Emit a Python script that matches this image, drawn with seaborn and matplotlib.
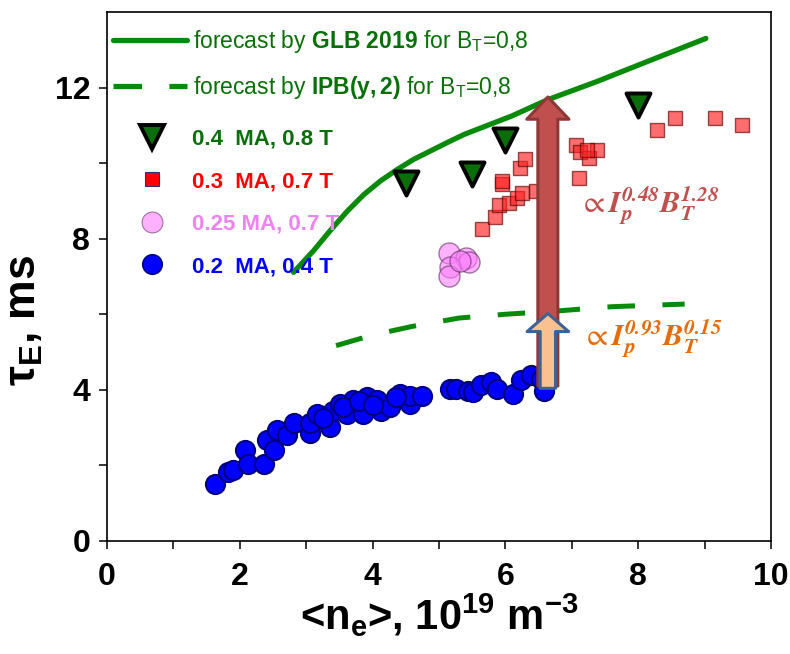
import matplotlib
matplotlib.use("Agg")
import matplotlib.pyplot as plt
import seaborn as sns
import pandas as pd
from matplotlib.lines import Line2D

# ---------------- data ----------------
blue_x = [1.63, 1.83, 1.90, 2.08, 2.12, 2.36, 2.41, 2.51, 2.56, 2.71, 2.81, 3.06, 3.06, 3.16,
          3.36, 3.41, 3.51, 3.62, 3.71, 3.86, 3.92, 4.07, 4.12, 4.27, 4.42, 4.57, 4.57, 4.75,
          5.17, 5.25, 5.43, 5.52, 5.63, 5.78, 5.88, 6.12, 6.23, 6.38, 6.53, 6.58,
          3.25, 3.55, 3.80, 4.00, 4.35]
blue_y = [1.50, 1.82, 1.87, 2.40, 2.05, 2.05, 2.66, 2.40, 2.93, 2.80, 3.11, 2.85, 3.11, 3.37,
          3.01, 3.45, 3.63, 3.37, 3.72, 3.37, 3.81, 3.72, 3.45, 3.54, 3.90, 3.63, 3.85, 3.85,
          4.03, 4.03, 3.98, 3.94, 4.12, 4.20, 4.03, 3.90, 4.25, 4.38, 4.30, 3.98,
          3.25, 3.55, 3.70, 3.60, 3.80]

red_x = [5.65, 5.84, 5.90, 6.05, 6.18, 6.25, 6.46, 5.95, 5.95, 6.22, 6.29,
         7.06, 7.12, 7.26, 7.38, 7.23, 7.11, 8.29, 8.55, 9.16, 9.57]
red_y = [8.25, 8.58, 8.89, 8.95, 9.08, 9.22, 9.26, 9.44, 9.52, 9.86, 10.11,
         10.47, 10.30, 10.14, 10.36, 10.36, 9.61, 10.88, 11.20, 11.20, 11.02]

pink_x = [5.15, 5.40, 5.45, 5.17, 5.15, 5.32]
pink_y = [7.63, 7.50, 7.37, 7.24, 7.02, 7.41]

tri_x = [4.50, 5.50, 6.00, 8.00]
tri_y = [9.48, 9.70, 10.62, 11.55]

glb_x = [2.81, 3.11, 3.36, 3.62, 3.87, 4.12, 4.37, 4.62, 4.87, 5.12, 5.38, 5.63,
         6.10, 6.64, 7.38, 8.14, 9.02]
glb_y = [7.11, 7.68, 8.21, 8.73, 9.17, 9.53, 9.83, 10.10, 10.32, 10.54, 10.76, 10.93,
         11.25, 11.68, 12.16, 12.69, 13.30]

ipb_x = [3.45, 4.00, 4.60, 5.30, 6.00, 6.80, 7.60, 8.70]
ipb_y = [5.17, 5.45, 5.68, 5.90, 6.00, 6.09, 6.20, 6.27]

arrow_x = 6.64
arrow_big = (4.10, 11.75)
arrow_small = (4.04, 6.02)

x_ticks = [0, 2, 4, 6, 8, 10]
y_ticks = [0, 4, 8, 12]

legend_labels = ["0.4  MA, 0.8 T", "0.3  MA, 0.7 T", "0.25 MA, 0.7 T", "0.2  MA, 0.4 T"]
forecast_labels = [r"forecast by $\mathbf{GLB\ 2019}$ for B$_\mathrm{T}$=0,8",
                   r"forecast by $\mathbf{IPB(y,2)}$ for B$_\mathrm{T}$=0,8"]

# ---------------- style ----------------
sns.set_theme(style="ticks")
FONT = "Liberation Sans"
plt.rcParams["font.family"] = [FONT, "DejaVu Sans"]
plt.rcParams["text.color"] = "black"
plt.rcParams["axes.labelcolor"] = "black"
plt.rcParams["xtick.color"] = "black"
plt.rcParams["ytick.color"] = "black"
plt.rcParams["mathtext.fontset"] = "custom"
plt.rcParams["mathtext.rm"] = FONT
plt.rcParams["mathtext.bf"] = FONT + ":bold"
plt.rcParams["mathtext.it"] = FONT + ":italic"

GREEN = "#0a8a0a"
fig = plt.figure(figsize=(7.9, 6.54), dpi=100)
ax = fig.add_axes([0.1354, 0.1728, 0.8405, 0.8089])

df_blue = pd.DataFrame({"x": blue_x, "y": blue_y})
df_red = pd.DataFrame({"x": red_x, "y": red_y})
df_pink = pd.DataFrame({"x": pink_x, "y": pink_y})
df_tri = pd.DataFrame({"x": tri_x, "y": tri_y})
df_glb = pd.DataFrame({"x": glb_x, "y": glb_y})
df_ipb = pd.DataFrame({"x": ipb_x, "y": ipb_y})

sns.lineplot(data=df_glb, x="x", y="y", ax=ax, color=GREEN, lw=3.8, sort=False, zorder=2)
sns.lineplot(data=df_ipb, x="x", y="y", ax=ax, color=GREEN, lw=3.6, sort=False,
             linestyle=(0, (5.5, 5.5)), zorder=2)
sns.scatterplot(data=df_blue, x="x", y="y", ax=ax, s=190, color="#0000ff",
                edgecolor="#000080", linewidth=1.5, zorder=3)
sns.scatterplot(data=df_pink, x="x", y="y", ax=ax, s=230, color="#ff80ff", alpha=0.6,
                edgecolor="#603060", linewidth=1.0, zorder=3)
sns.scatterplot(data=df_red, x="x", y="y", ax=ax, s=110, marker="s", color="#ff2020",
                alpha=0.65, edgecolor="#600000", linewidth=1.0, zorder=3)
sns.scatterplot(data=df_tri, x="x", y="y", ax=ax, s=300, marker="v", color="#0b6e0b",
                edgecolor="black", linewidth=2.8, zorder=4)

# arrows
ax.annotate("", xy=(arrow_x, arrow_big[1]), xytext=(arrow_x, arrow_big[0]),
            arrowprops=dict(arrowstyle="simple,head_length=1.0,head_width=1.9,tail_width=0.9",
                            mutation_scale=16, fc="#c0504d", ec="#8c3836", lw=2.2,
                            shrinkA=0, shrinkB=0), zorder=5)
ax.annotate("", xy=(arrow_x, arrow_small[1]), xytext=(arrow_x, arrow_small[0]),
            arrowprops=dict(arrowstyle="simple,head_length=1.0,head_width=2.3,tail_width=0.85",
                            mutation_scale=13, fc="#fac090", ec="#41618f", lw=2.2,
                            shrinkA=0, shrinkB=0), zorder=6)

ax.text(8.17, 8.87, r"$\propto\mathbfit{I_p^{0.48}B_T^{1.28}}$", color="#c0504d",
        fontsize=22, ha="center", va="center", math_fontfamily="stix")
ax.text(8.22, 5.36, r"$\propto\mathbfit{I_p^{0.93}B_T^{0.15}}$", color="#e46c0a",
        fontsize=22, ha="center", va="center", math_fontfamily="stix")

# axes
ax.set_xlim(0, 10)
ax.set_ylim(0, 14)
ax.set_xticks(x_ticks)
ax.set_yticks(y_ticks)
ax.set_xticks([1, 3, 5, 7, 9], minor=True)
ax.set_yticks([2, 6, 10], minor=True)
ax.tick_params(which="both", direction="out", length=6, width=1.1, color="black",
               top=False, right=False)
ax.tick_params(axis="x", which="major", labelsize=23, pad=9)
ax.tick_params(axis="y", which="major", labelsize=23, pad=6)
for lab in ax.get_xticklabels() + ax.get_yticklabels():
    lab.set_fontweight("bold")
for sp in ax.spines.values():
    sp.set_visible(True)
    sp.set_linewidth(1.2)
    sp.set_color("black")

ax.set_xlabel(r"<n$_\mathbf{e}$>, 10$^\mathbf{19}$ m$^\mathbf{-3}$", fontsize=30,
              fontweight="bold", labelpad=0)
ax.set_ylabel(r"τ$_\mathbf{E}$, ms", fontsize=32, fontweight="bold")
ax.yaxis.set_label_coords(-0.094, 0.418)

# legends
h1 = [Line2D([], [], color=GREEN, lw=3.8),
      Line2D([], [], color=GREEN, lw=3.8, linestyle=(0, (5.4, 5.2)))]
leg1 = ax.legend(h1, forecast_labels, loc="upper left", bbox_to_anchor=(-0.0155, 1.0),
                 frameon=False, prop={"family": FONT, "size": 16.5},
                 handlelength=3.25, handletextpad=0.25, labelspacing=0.82, borderaxespad=0.3)
for t in leg1.get_texts():
    t.set_color("#087008")
ax.add_artist(leg1)

h2 = [Line2D([], [], ls="", marker="v", ms=17, mfc="#0b6e0b", mec="black", mew=2.8),
      Line2D([], [], ls="", marker="s", ms=10, mfc="#ff0000", mec="#303080", mew=0.8),
      Line2D([], [], ls="", marker="o", ms=15, mfc="#ffb0ff", mec="#a070a0", mew=0.8),
      Line2D([], [], ls="", marker="o", ms=14, mfc="#0000ff", mec="#000080", mew=1.2)]
leg2 = ax.legend(h2, legend_labels, loc="upper left", bbox_to_anchor=(0.011, 0.809),
                 frameon=False, prop={"family": FONT, "size": 16, "weight": "bold"},
                 handlelength=2.0, handletextpad=0.82, labelspacing=0.97, borderaxespad=0.3)
for t, c in zip(leg2.get_texts(), ["#0b6e0b", "#ff0000", "#ee82ee", "#0000ff"]):
    t.set_color(c)

fig.savefig("out.png", dpi=100)
